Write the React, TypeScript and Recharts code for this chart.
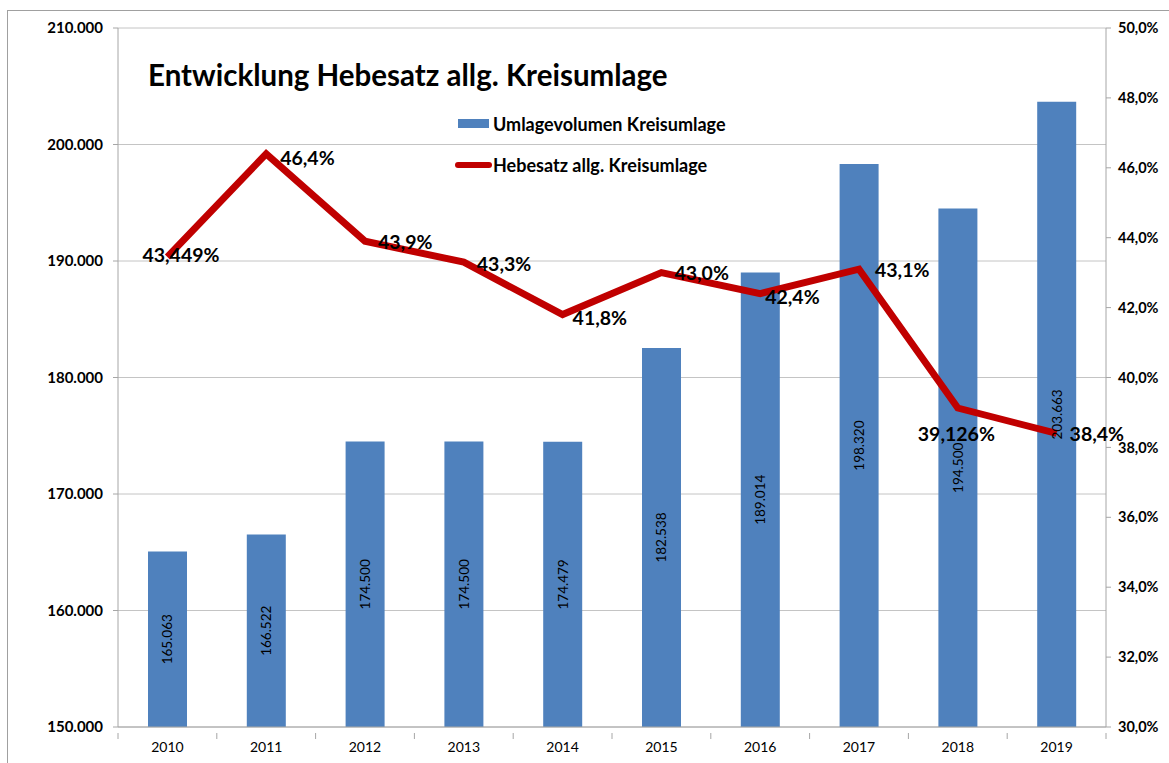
import React from 'react';
import { ComposedChart, Bar, Line, XAxis, YAxis, CartesianGrid } from 'recharts';

const years = ['2010', '2011', '2012', '2013', '2014', '2015', '2016', '2017', '2018', '2019'];
const volumes = [165063, 166522, 174500, 174500, 174479, 182538, 189014, 198320, 194500, 203663];
const rates = [43.449, 46.4, 43.9, 43.3, 41.8, 43.0, 42.4, 43.1, 39.126, 38.4];
const volumeTicks = [150000, 160000, 170000, 180000, 190000, 200000, 210000];
const rateTicks = [30, 32, 34, 36, 38, 40, 42, 44, 46, 48, 50];

const data = years.map((year, i) => ({ year, volume: volumes[i], rate: rates[i] }));

// label offsets (dx, dy) for the rate labels, relative to the point
const rateLabelOffsets = [
  [-25, -2], [14, 4], [13, 0], [13, 1], [10, 3], [13, 0], [5, 3], [16, 0], [-40, 25], [13, 0],
];

const FONT = 'Lato, "Open Sans", sans-serif';
const BLUE = '#4F81BD';
const RED = '#C00000';
const AXIS = '#A6A6A6';

const fmtThousands = (v: number) => String(v).replace(/\B(?=(\d{3})+(?!\d))/g, '.');
const fmtPct = (v: number) => v.toFixed(1).replace('.', ',') + '%';
const fmtRate = (v: number) => {
  const s = Math.round(v * 10) === v * 10 ? v.toFixed(1) : v.toFixed(3);
  return s.replace('.', ',') + '%';
};

const BAND = (1106 - 118) / years.length;

function XTick(props: any) {
  const { x, y, payload, index } = props;
  const left = x - BAND / 2;
  const right = x + BAND / 2;
  return (
    <g>
      <line x1={left} y1={y - 2} x2={left} y2={y + 4} stroke={AXIS} />
      {index === years.length - 1 && <line x1={right} y1={y - 2} x2={right} y2={y + 4} stroke={AXIS} />}
      <text x={x} y={y + 17} textAnchor="middle" fontSize={14} fill="#000" fontFamily={FONT}>
        {payload.value}
      </text>
    </g>
  );
}

function BarValue(props: any) {
  const { x, y, width, height, value } = props;
  const cx = x + width / 2;
  const cy = y + height / 2;
  return (
    <text
      x={cx}
      y={cy}
      transform={`rotate(-90 ${cx} ${cy})`}
      textAnchor="middle"
      dominantBaseline="central"
      fontSize={13.5}
      fill="#000"
      fontFamily={FONT}
    >
      {fmtThousands(value)}
    </text>
  );
}

function RateValue(props: any) {
  const { x, y, index, value } = props;
  const [dx, dy] = rateLabelOffsets[index] || [12, 0];
  return (
    <text
      x={x + dx}
      y={y + dy}
      dominantBaseline="central"
      fontSize={19.5}
      fontWeight={700}
      fill="#000"
      fontFamily={FONT}
    >
      {fmtRate(value)}
    </text>
  );
}

export default function App() {
  return (
    <div style={{ position: 'fixed', left: 0, top: 0, width: 1169, height: 763, overflow: 'hidden', background: '#fff' }}>
      <div style={{ position: 'absolute', left: 7, top: 10, width: 1200, height: 800, border: '1px solid #A0A0A0' }} />
      <div style={{ position: 'absolute', left: 0, top: 0 }}>
        <ComposedChart width={1169} height={763} data={data} margin={{ top: 28, right: 0, bottom: 0, left: 0 }}>
          <CartesianGrid yAxisId="left" vertical={false} stroke="#C4C4C4" />
          <XAxis
            dataKey="year"
            height={36}
            axisLine={{ stroke: AXIS }}
            tickLine={false}
            tick={<XTick />}
            interval={0}
          />
          <YAxis
            yAxisId="left"
            width={118}
            domain={[150000, 210000]}
            ticks={volumeTicks}
            tickFormatter={fmtThousands}
            axisLine={{ stroke: AXIS }}
            tickLine={{ stroke: AXIS }}
            tickSize={5}
            tickMargin={10}
            tick={{ fill: '#000', fontSize: 15, fontWeight: 700, fontFamily: FONT }}
            allowDataOverflow
          />
          <YAxis
            yAxisId="right"
            orientation="right"
            width={63}
            domain={[30, 50]}
            ticks={rateTicks}
            tickFormatter={fmtPct}
            axisLine={{ stroke: AXIS }}
            tickLine={{ stroke: AXIS }}
            tickSize={5}
            tickMargin={7}
            tick={{ fill: '#000', fontSize: 14.5, fontWeight: 700, fontFamily: FONT }}
          />
          <Bar
            yAxisId="left"
            dataKey="volume"
            fill={BLUE}
            barSize={39}
            isAnimationActive={false}
            label={<BarValue />}
          />
          <Line
            yAxisId="right"
            dataKey="rate"
            type="linear"
            stroke={RED}
            strokeWidth={7}
            dot={false}
            activeDot={false}
            isAnimationActive={false}
            label={<RateValue />}
          />
        </ComposedChart>
      </div>
      <div
        style={{
          position: 'absolute',
          left: 148,
          top: 58,
          fontFamily: FONT,
          fontWeight: 700,
          fontSize: 29.5,
          lineHeight: '34px',
          color: '#000',
          whiteSpace: 'nowrap',
        }}
      >
        Entwicklung Hebesatz allg. Kreisumlage
      </div>
      <div style={{ position: 'absolute', left: 458, top: 119, width: 31, height: 9, background: BLUE }} />
      <div
        style={{ position: 'absolute', left: 493, top: 113, fontFamily: FONT, fontWeight: 700, fontSize: 18, lineHeight: '22px', color: '#000', whiteSpace: 'nowrap' }}
      >
        Umlagevolumen Kreisumlage
      </div>
      <div style={{ position: 'absolute', left: 455, top: 162, width: 37, height: 6, borderRadius: 3, background: RED }} />
      <div
        style={{ position: 'absolute', left: 493, top: 154, fontFamily: FONT, fontWeight: 700, fontSize: 18, lineHeight: '22px', color: '#000', whiteSpace: 'nowrap' }}
      >
        Hebesatz allg. Kreisumlage
      </div>
    </div>
  );
}
